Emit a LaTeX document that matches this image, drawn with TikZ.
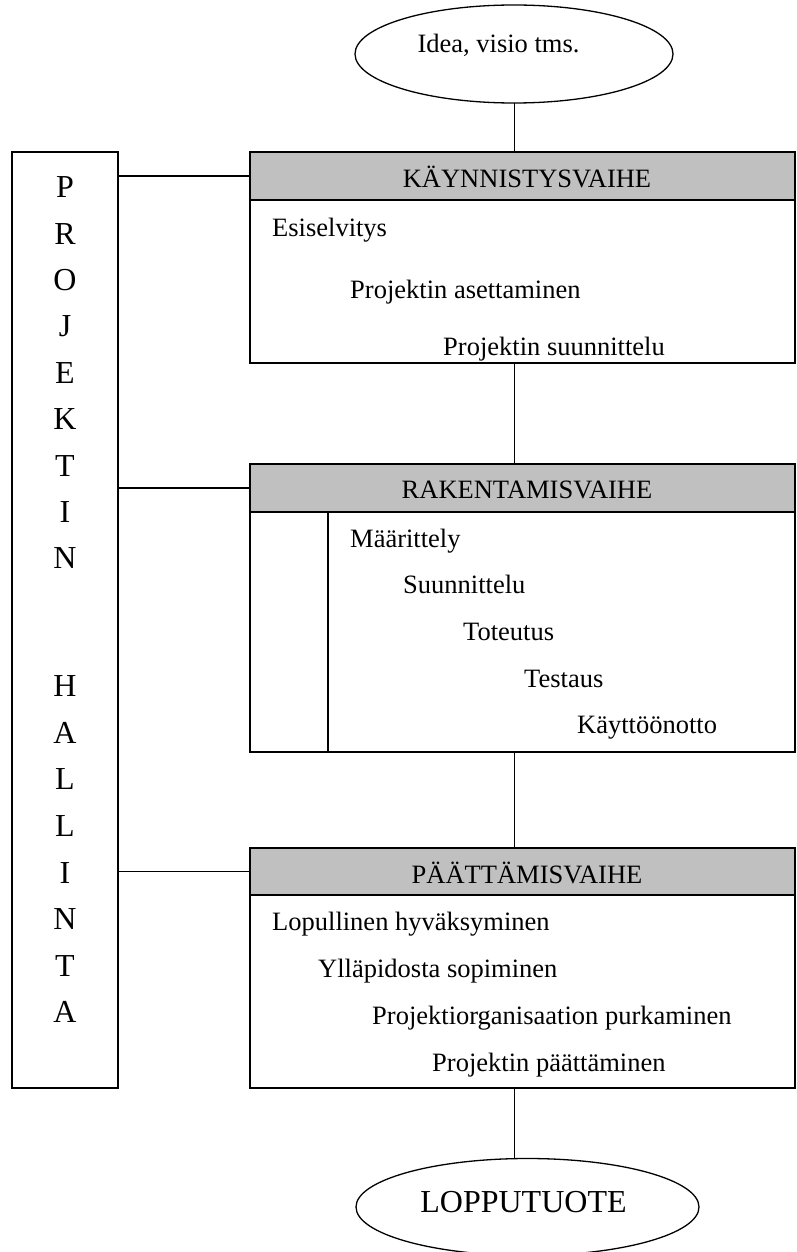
\documentclass[tikz,border=0pt]{standalone}
\usepackage{fontspec}
\setmainfont{Liberation Serif}
\usetikzlibrary{shapes.geometric}
\definecolor{hdrgrey}{HTML}{C0C0C0}
\begin{document}
\begin{tikzpicture}[x=1pt,y=-1pt,
  box/.style={draw, line width=1.3pt, rectangle, inner sep=0pt, outer sep=0pt, anchor=north west},
  hdr/.style={box, fill=hdrgrey},
  oval/.style={draw, line width=1.3pt, ellipse, inner sep=0pt, outer sep=0pt},
  conn/.style={line width=1.3pt},
  vconn/.style={line width=1pt},
  txt/.style={inner sep=0pt, anchor=base west, font=\fontsize{26.5}{30}\selectfont},
  htxt/.style={inner sep=0pt, anchor=base, font=\fontsize{26.5}{30}\selectfont},
  letter/.style={inner sep=0pt, anchor=base, font=\fontsize{32}{36}\selectfont},
  bigtxt/.style={inner sep=0pt, anchor=base, font=\fontsize{32}{36}\selectfont}]
\useasboundingbox (0,0) rectangle (796,1252);

% left management box
\node[box, minimum width=106pt, minimum height=936pt] (lbox) at (12,152) {};
\foreach \c [count=\i] in {P,R,O,J,E,K,T,I,N}
  \node[letter] (p\i) at (65,{197.6+46.4*(\i-1)}) {\c};
\foreach \c [count=\i] in {H,A,L,L,I,N,T,A}
  \node[letter] (q\i) at (65,{696.6+46.6*(\i-1)}) {\c};

% top ellipse
\node[oval, minimum width=318pt, minimum height=98pt] (idea) at (514,54) {};
\node[htxt] (ideatxt) at (498.5,53) {Idea, visio tms.};

% phase 1
\node[hdr, minimum width=545pt, minimum height=48pt] (h1) at (250,152) {};
\node[box, minimum width=545pt, minimum height=163pt] (b1) at (250,200) {};
\node[htxt] (h1t) at (527,188) {KÄYNNISTYSVAIHE};
\node[txt] (t11) at (272,236) {Esiselvitys};
\node[txt] (t12) at (350,298) {Projektin asettaminen};
\node[txt] (t13) at (443,355) {Projektin suunnittelu};

% phase 2
\node[hdr, minimum width=545pt, minimum height=48pt] (h2) at (250,464) {};
\node[box, minimum width=545pt, minimum height=240pt] (b2) at (250,512) {};
\coordinate (s2) at (328,512);
\draw[conn] (s2) -- (s2 |- b2.south);
\node[htxt] (h2t) at (527,498) {RAKENTAMISVAIHE};
\node[txt] (t21) at (350,547) {Määrittely};
\node[txt] (t22) at (403,593) {Suunnittelu};
\node[txt] (t23) at (463,640) {Toteutus};
\node[txt] (t24) at (524,687) {Testaus};
\node[txt] (t25) at (577,733) {Käyttöönotto};

% phase 3
\node[hdr, minimum width=545pt, minimum height=47pt] (h3) at (250,848) {};
\node[box, minimum width=545pt, minimum height=193pt] (b3) at (250,895) {};
\node[htxt] (h3t) at (527,883) {PÄÄTTÄMISVAIHE};
\node[txt] (t31) at (272,930) {Lopullinen hyväksyminen};
\node[txt] (t32) at (318,977) {Ylläpidosta sopiminen};
\node[txt] (t33) at (372,1024) {Projektiorganisaation purkaminen};
\node[txt] (t34) at (432,1071) {Projektin päättäminen};

% bottom ellipse
\node[oval, minimum width=343pt, minimum height=97pt] (end) at (527.5,1207) {};
\node[bigtxt] (endtxt) at (523.5,1212) {LOPPUTUOTE};

% vertical connectors
\draw[vconn] (idea.south) -- (idea.south |- h1.north);
\draw[vconn] (idea.south |- b1.south) -- (idea.south |- h2.north);
\draw[vconn] (idea.south |- b2.south) -- (idea.south |- h3.north);
\draw[vconn] (idea.south |- b3.south) -- (idea.south |- end.north);

% horizontal connectors
\draw[conn] (lbox.east |- h1.west) -- (h1.west);
\draw[conn] (lbox.east |- h2.west) -- (h2.west);
\draw[conn] (lbox.east |- h3.west) -- (h3.west);
\end{tikzpicture}
\end{document}
